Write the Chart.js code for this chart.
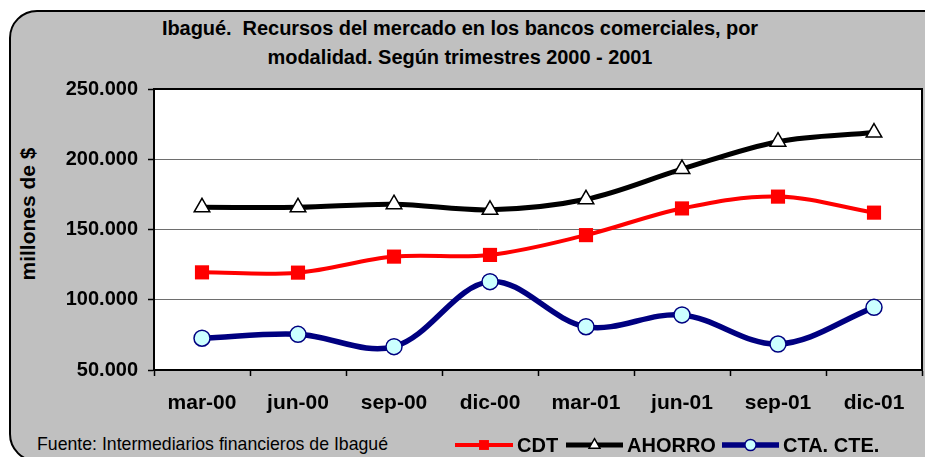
<!DOCTYPE html>
<html lang="es">
<head>
<meta charset="UTF-8">
<title>Ibagué. Recursos del mercado en los bancos comerciales</title>
<script src="https://cdn.jsdelivr.net/npm/chart.js"></script>
<style>
  body { margin: 0; background: #fff; font-family: "Liberation Sans", Arial, sans-serif; }
  #wrap { position: relative; width: 925px; height: 457px; overflow: hidden; }
  #frame { position: absolute; left: 9px; top: 10px; width: 960px; height: 448px; border: 2px solid #000; border-radius: 28px; background: #c0c0c0; }
  #title { position: absolute; left: -3px; top: 14px; width: 926px; text-align: center; font-weight: bold; font-size: 20px; letter-spacing: -0.05px; line-height: 29px; color: #000; }
  #ytitle { position: absolute; left: 28px; top: 214px; transform: translate(-50%, -50%) rotate(-90deg); font-weight: bold; font-size: 21px; white-space: nowrap; }
  #source { position: absolute; left: 37px; top: 434px; font-size: 17.7px; white-space: nowrap; }
  canvas { position: absolute; left: 0; top: 0; }
</style>
</head>
<body>
<div id="wrap">
  <div id="frame"></div>
  <div id="title">Ibagué.&nbsp; Recursos del mercado en los bancos comerciales, por<br>modalidad. Según trimestres 2000 - 2001</div>
  <div id="ytitle">millones de $</div>
  <div id="source">Fuente: Intermediarios financieros de Ibagué</div>
  <canvas id="chart" width="925" height="457"></canvas>
</div>
<script>
  // quarters
  const labels = ['mar-00', 'jun-00', 'sep-00', 'dic-00', 'mar-01', 'jun-01', 'sep-01', 'dic-01'];
  // millones de $
  const cdt = [119500, 119300, 130700, 131900, 146000, 165000, 173400, 162000];
  const ahorro = [165800, 165800, 168000, 164000, 171500, 193000, 212500, 219000];
  const ctaCte = [72600, 75400, 66600, 112900, 80800, 89200, 68500, 94600];
  const yTicks = [50000, 100000, 150000, 200000, 250000];

  Chart.defaults.font.family = '"Liberation Sans", Arial, sans-serif';
  Chart.defaults.color = '#000';

  const fmt = v => v.toLocaleString('de-DE');

  // white plot area + black frame round it
  const plotBox = {
    id: 'plotBox',
    beforeDraw(chart) {
      const a = chart.chartArea, c = chart.ctx;
      c.save();
      c.fillStyle = '#fff';
      c.fillRect(a.left, a.top, a.right - a.left, a.bottom - a.top);
      c.restore();
    },
    beforeDatasetsDraw(chart) {
      const a = chart.chartArea, c = chart.ctx;
      c.save();
      c.strokeStyle = '#000';
      c.lineWidth = 2;
      c.strokeRect(a.left, a.top, a.right - a.left, a.bottom - a.top);
      c.restore();
    }
  };

  // legend drawn as line + marker + name, like the original
  const lineLegend = {
    id: 'lineLegend',
    afterDraw(chart) {
      const c = chart.ctx;
      const items = [{ x: 455, w: 58 }, { x: 566, w: 57 }, { x: 722, w: 57 }];
      const y = 445;
      c.save();
      chart.data.datasets.forEach((ds, i) => {
        const it = items[i];
        c.strokeStyle = ds.borderColor;
        c.lineWidth = ds.borderWidth;
        c.beginPath();
        c.moveTo(it.x, y);
        c.lineTo(it.x + it.w, y);
        c.stroke();
        c.fillStyle = ds.pointBackgroundColor;
        c.strokeStyle = ds.pointBorderColor;
        c.lineWidth = ds.pointBorderWidth;
        Chart.helpers.drawPoint(c, { pointStyle: ds.pointStyle, radius: ds.pointRadius * 0.7, rotation: 0, borderWidth: ds.pointBorderWidth }, it.x + it.w / 2, y);
        c.fillStyle = '#000';
        c.font = 'bold 20px "Liberation Sans", Arial, sans-serif';
        c.textBaseline = 'middle';
        c.fillText(ds.label, it.x + it.w + 4, y + 1);
      });
      c.restore();
    }
  };

  new Chart(document.getElementById('chart'), {
    type: 'line',
    data: {
      labels: labels,
      datasets: [
        {
          label: 'CDT', data: cdt,
          borderColor: '#ff0000', borderWidth: 4,
          pointStyle: 'rect', pointRadius: 10, pointBackgroundColor: '#ff0000', pointBorderColor: '#ff0000', pointBorderWidth: 0,
          tension: 0.35
        },
        {
          label: 'AHORRO', data: ahorro,
          borderColor: '#000000', borderWidth: 5,
          pointStyle: 'triangle', pointRadius: 9, pointBackgroundColor: '#ffffff', pointBorderColor: '#000000', pointBorderWidth: 1.5,
          tension: 0.35
        },
        {
          label: 'CTA. CTE.', data: ctaCte,
          borderColor: '#000080', borderWidth: 5.5,
          pointStyle: 'circle', pointRadius: 8, pointBackgroundColor: '#ccffff', pointBorderColor: '#000080', pointBorderWidth: 1.5,
          tension: 0.35
        }
      ]
    },
    options: {
      responsive: false,
      devicePixelRatio: 1,
      animation: false,
      layout: { autoPadding: false, padding: { top: 89, right: 3, bottom: 0, left: 0 } },
      scales: {
        x: {
          offset: true,
          afterFit: s => { s.height = 87; s.paddingLeft = 0; s.paddingRight = 0; },
          grid: { offset: true, drawOnChartArea: false, drawTicks: true, tickLength: 6, tickColor: '#000', tickWidth: 1.5 },
          border: { display: true, color: '#000', width: 2 },
          ticks: { font: { size: 21, weight: 'bold' }, padding: 15, maxRotation: 0, autoSkip: false }
        },
        y: {
          min: 50000, max: 250000,
          afterFit: s => { s.width = 154; },
          afterBuildTicks: s => { s.ticks = yTicks.map(v => ({ value: v })); },
          grid: { color: '#6e6e6e', lineWidth: 1, tickLength: 6, tickColor: '#000', tickWidth: 1.5 },
          border: { display: true, color: '#000', width: 2 },
          ticks: { font: { size: 20, weight: 'bold' }, padding: 10, callback: v => fmt(v) }
        }
      },
      plugins: {
        legend: { display: false },
        tooltip: { enabled: false },
        title: { display: false }
      }
    },
    plugins: [plotBox, lineLegend]
  });
</script>
</body>
</html>
